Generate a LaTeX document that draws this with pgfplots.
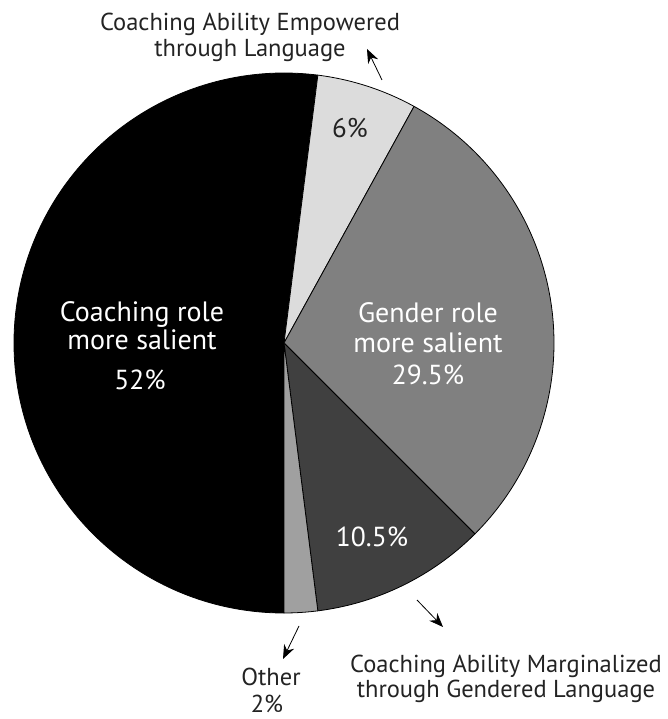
\documentclass[border=0pt]{standalone}
\usepackage{pgfplots}
\usepackage{pgfplotstable}
\pgfplotsset{compat=1.18}
\usetikzlibrary{arrows.meta}
\usepackage{fontspec}
\setmainfont{PT Sans}
\definecolor{lightslice}{HTML}{DCDCDC}
\definecolor{midslice}{HTML}{808080}
\definecolor{darkslice}{HTML}{404040}
\definecolor{otherslice}{HTML}{A0A0A0}
\definecolor{txt}{HTML}{232323}
\pgfplotstableread{
value shade
52 black
6 lightslice
29.5 midslice
10.5 darkslice
2 otherslice
}\piedata
\begin{document}
\begin{tikzpicture}
\begin{axis}[scale only axis, width=667pt, height=719pt,
  xmin=0, xmax=667, ymin=0, ymax=719, hide axis, clip=false]
% frame the whole picture area so the page is exactly the axis area
\path (axis cs:0,0) -- (axis cs:667,719);
\pgfplotstablegetrowsof{\piedata}
\pgfmathtruncatemacro\lastrow{\pgfplotsretval-1}
\gdef\startang{270}
\pgfplotsforeachungrouped \i in {0,...,\lastrow}{%
  \pgfplotstablegetelem{\i}{value}\of\piedata \let\val\pgfplotsretval
  \pgfplotstablegetelem{\i}{shade}\of\piedata \let\shade\pgfplotsretval
  \pgfmathsetmacro\endang{\startang-3.6*\val}%
  \edef\cmd{\noexpand\filldraw[fill=\shade, draw=black, line width=0.8pt, line join=round] (axis cs:284,376) -- ++(\startang:270pt) arc[start angle=\startang, end angle=\endang, radius=270pt] -- cycle;}%
  \cmd
  \global\let\startang\endang
}
% labels
\tikzset{lbl/.style={inner sep=0pt, align=center}}
\node[lbl, font=\fontsize{24.5}{26}\selectfont, text=txt] at (axis cs:250,682) {Coaching Ability Empowered\\through Language};
\draw[-{Stealth[length=14pt,width=11pt]}, line width=0.8pt, black] (axis cs:382,639) -- (axis cs:367,670);
\node[lbl, font=\fontsize{27}{28}\selectfont, text=txt] at (axis cs:350,591) {6\%};
\node[lbl, font=\fontsize{28}{30}\selectfont, text=white] at (axis cs:428,391) {Gender role\\more salient};
\node[lbl, font=\fontsize{27.5}{28}\selectfont, text=white] at (axis cs:428,344) {29.5\%};
\node[lbl, font=\fontsize{28}{28}\selectfont, text=white] at (axis cs:142,393) {Coaching role\\more salient};
\node[lbl, font=\fontsize{27.5}{28}\selectfont, text=white] at (axis cs:140,339) {52\%};
\node[lbl, font=\fontsize{27.5}{28}\selectfont, text=white] at (axis cs:372,182) {10.5\%};
\draw[-{Stealth[length=14pt,width=11pt]}, line width=0.8pt, black] (axis cs:299,93) -- (axis cs:283,60);
\node[lbl, font=\fontsize{24.5}{26}\selectfont, text=txt] at (axis cs:271,42) {Other};
\node[lbl, font=\fontsize{24.5}{26}\selectfont, text=txt] at (axis cs:267,15) {2\%};
\draw[-{Stealth[length=14pt,width=11pt]}, line width=0.8pt, black] (axis cs:417,119) -- (axis cs:443,92);
\node[lbl, font=\fontsize{24.5}{25}\selectfont, text=txt, anchor=east] at (axis cs:662,40) {Coaching Ability Marginalized\\through Gendered Language};
\end{axis}
\end{tikzpicture}
\end{document}
